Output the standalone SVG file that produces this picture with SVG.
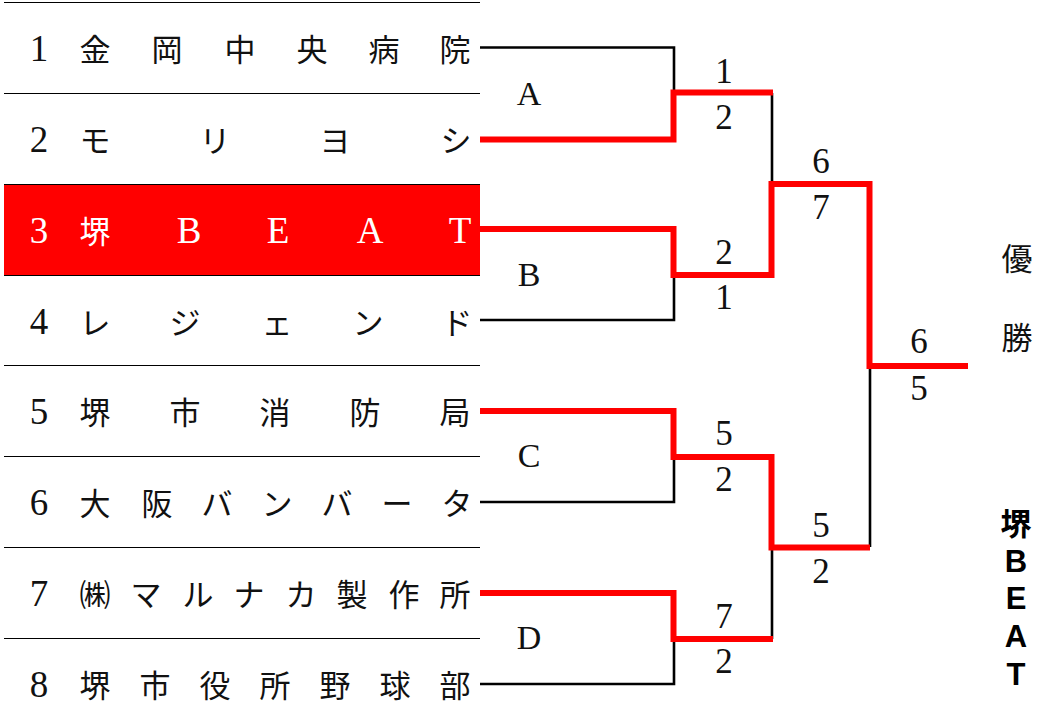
<svg xmlns="http://www.w3.org/2000/svg" width="1037" height="726" viewBox="0 0 1037 726">
<style>
.num{font-family:"Liberation Serif","Noto Sans CJK JP",serif;font-size:37px;text-anchor:middle;fill:#111}
.name{font-family:"Noto Sans CJK JP",sans-serif;font-size:31px;text-anchor:middle;fill:#111}
.lat{font-family:"Liberation Serif","Noto Sans CJK JP",serif;font-size:37px;text-anchor:middle;fill:#fff}
.w{fill:#fff}
.lbl{font-family:"Liberation Serif",serif;font-size:34px;text-anchor:middle;fill:#111}
.sc{font-family:"Liberation Serif",serif;font-size:35px;text-anchor:middle;fill:#111}
.row{stroke:#000;stroke-width:1.2;fill:none}
.blk{stroke:#000;stroke-width:2.6;fill:none}
.red{stroke:#ff0000;stroke-width:6;fill:none;stroke-linejoin:miter}
.win{font-family:"Noto Sans CJK JP",sans-serif;font-size:31px;text-anchor:middle;fill:#111}
.champ{font-family:"Liberation Sans","Noto Sans CJK JP",sans-serif;font-weight:bold;font-size:31px;text-anchor:middle;fill:#000}
</style>
<rect width="1037" height="726" fill="#fff"/>
<rect x="4" y="184" width="476" height="91.5" fill="#ff0000"/>
<g id="table-lines">
<path class="row" d="M4,2.5H480M4,93.5H480M4,184.5H480M4,275.5H480M4,365.5H480M4,456.5H480M4,547.5H480M4,638.5H480"/>
</g>
<g id="team1"><text class="num" x="39" y="60.5">1</text><text class="name" x="95 167 240 312 384 455" y="60.5">金岡中央病院</text></g>
<g id="team2"><text class="num" x="39" y="151.5">2</text><text class="name" x="95 215 335 456" y="151.5">モリヨシ</text></g>
<g id="team3"><text class="num w" x="39" y="242.5" style="fill:#fff">3</text><text class="name" x="95" y="242.5" style="fill:#fff">堺</text><text class="lat" x="189 278 370 460" y="242.5">BEAT</text></g>
<g id="team4"><text class="num" x="39" y="333.5">4</text><text class="name" x="95 185 277 368 457" y="333.5">レジェンド</text></g>
<g id="team5"><text class="num" x="39" y="424">5</text><text class="name" x="95 185 275 365 455" y="424">堺市消防局</text></g>
<g id="team6"><text class="num" x="39" y="515">6</text><text class="name" x="95 157 217 277 337 397 457" y="515">大阪バンバータ</text></g>
<g id="team7"><text class="num" x="39" y="606">7</text><text class="name" x="95 146 198 249 301 352 404 455" y="606">㈱マルナカ製作所</text></g>
<g id="team8"><text class="num" x="39" y="696.5">8</text><text class="name" x="95 155 215 275 335 395 455" y="696.5">堺市役所野球部</text></g>
<g id="connectors">
<path class="blk" d="M480,47.5H674V93"/>
<path class="blk" d="M480,320H674V275"/>
<path class="blk" d="M480,502H674V457"/>
<path class="blk" d="M480,684H674V639"/>
<path class="blk" d="M772,93V184"/>
<path class="blk" d="M772,639V547"/>
<path class="blk" d="M870,547V366"/>
<path class="red" d="M480,139.5H673.5V92.5H773"/>
<path class="red" d="M480,229H673.5V275H771.5V184H869.5V366H968"/>
<path class="red" d="M480,411H673.5V457H771.5V547.5H870"/>
<path class="red" d="M480,593H673.5V639H773"/>
</g>
<g id="match-labels">
<text class="lbl" x="529" y="105">A</text>
<text class="lbl" x="529" y="286">B</text>
<text class="lbl" x="529" y="467">C</text>
<text class="lbl" x="529" y="649">D</text>
</g>
<g id="scores">
<text class="sc" x="724" y="83">1</text>
<text class="sc" x="724" y="129">2</text>
<text class="sc" x="724" y="264">2</text>
<text class="sc" x="724" y="309">1</text>
<text class="sc" x="724" y="445">5</text>
<text class="sc" x="724" y="491">2</text>
<text class="sc" x="724" y="628">7</text>
<text class="sc" x="724" y="673">2</text>
<text class="sc" x="821" y="173">6</text>
<text class="sc" x="821" y="219">7</text>
<text class="sc" x="821" y="537">5</text>
<text class="sc" x="821" y="583">2</text>
<text class="sc" x="919" y="353">6</text>
<text class="sc" x="919" y="400">5</text>
</g>
<g id="winner-title">
<text class="win" x="1017" y="270">優</text>
<text class="win" x="1017" y="349">勝</text>
</g>
<g id="champion">
<text class="champ" x="1016" y="535">堺</text>
<text class="champ" x="1016" y="572">B</text>
<text class="champ" x="1016" y="609">E</text>
<text class="champ" x="1016" y="647">A</text>
<text class="champ" x="1016" y="685">T</text>
</g>
</svg>
